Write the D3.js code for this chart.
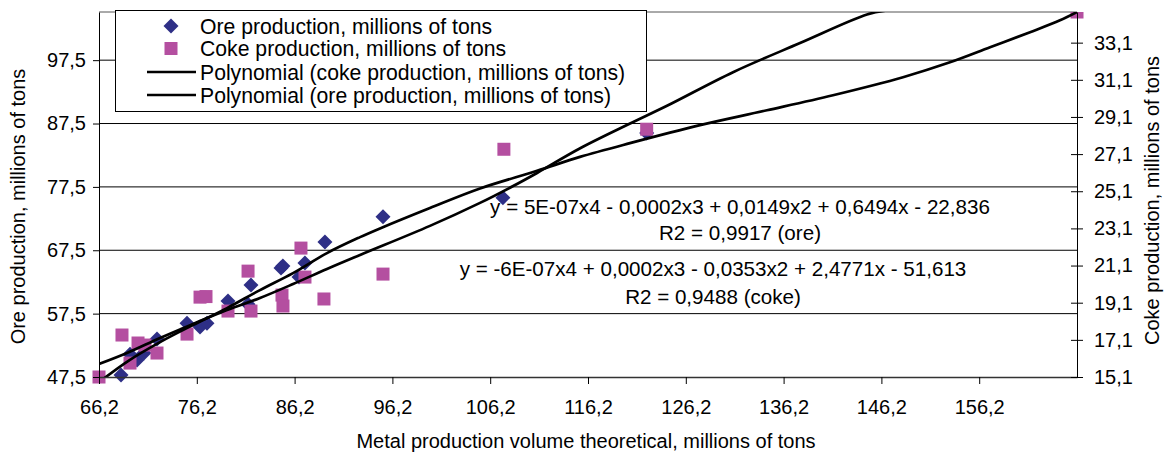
<!DOCTYPE html>
<html><head><meta charset="utf-8">
<script src="https://cdn.jsdelivr.net/npm/d3@7"></script>
<style>
body{margin:0;background:#fff}
svg{display:block}
text{font-family:"Liberation Sans",Arial,sans-serif;fill:#000}
</style>
</head><body><svg id="c" width="1168" height="456"></svg>
<script>
// ---- data ----
const xTicks = [66.2, 76.2, 86.2, 96.2, 106.2, 116.2, 126.2, 136.2, 146.2, 156.2];
const oreTicks = [47.5, 57.5, 67.5, 77.5, 87.5, 97.5];
const cokeTicks = [15.1, 17.1, 19.1, 21.1, 23.1, 25.1, 27.1, 29.1, 31.1, 33.1];

const oreX = [68.45, 69.37, 70.09, 70.8, 72.13, 75.2, 76.53, 77.24, 79.39, 81.44, 81.74, 84.81, 85.0, 86.65, 87.26, 89.3, 95.24, 107.5, 122.2];
const oreY = [47.8, 51.1, 50.2, 51.3, 53.5, 56.0, 55.4, 56.0, 59.5, 59.0, 62.0, 64.7, 65.0, 63.3, 65.5, 68.8, 72.8, 75.8, 86.0];

const cokeX = [66.2, 68.55, 69.37, 70.19, 70.9, 72.13, 75.2, 76.53, 77.14, 79.39, 81.44, 81.74, 84.91, 85.01, 86.85, 87.26, 89.2, 95.24, 107.6, 122.2, 166.2];
const cokeY = [15.1, 17.36, 15.85, 16.93, 16.82, 16.39, 17.41, 19.4, 19.43, 18.65, 20.8, 18.65, 19.51, 18.92, 22.04, 20.48, 19.3, 20.64, 27.36, 28.44, 34.75];

// trend lines
const oreTrendX = [66.2, 69.06, 72.44, 75.81, 79.29, 82.66, 86.04, 89.51, 92.89, 100.04, 105.16, 108.5, 110.99, 115.4, 120.5, 124.28, 131.03, 137.88, 144.73, 146.6];
const oreTrendY = [49.55, 51.29, 53.66, 55.87, 58.08, 59.97, 62.17, 64.55, 66.76, 71.35, 74.98, 77.6, 79.7, 83.6, 87.5, 90.3, 95.6, 100.2, 104.7, 105.3];

const cokeTrendX = [66.2, 69.17, 72.44, 75.81, 79.29, 82.66, 86.04, 89.51, 92.89, 94.93, 100.04, 105.16, 110.99, 115.38, 120.49, 127.65, 134.5, 141.25, 148.41, 153.21, 157.31, 161.4, 164.46, 166.2];
const cokeTrendY = [14.82, 15.96, 16.98, 17.9, 18.81, 19.78, 20.69, 21.77, 22.63, 23.1, 24.2, 25.25, 26.2, 26.95, 27.69, 28.66, 29.46, 30.27, 31.24, 32.04, 32.85, 33.66, 34.3, 34.75];

const legendLabels = ["Ore production, millions of tons", "Coke production, millions of tons",
  "Polynomial (coke production, millions of tons)", "Polynomial (ore production, millions of tons)"];
const eqOre = ["y = 5E-07x4 - 0,0002x3 + 0,0149x2 + 0,6494x - 22,836", "R2 = 0,9917 (ore)"];
const eqCoke = ["y = -6E-07x4 + 0,0002x3 - 0,0353x2 + 2,4771x - 51,613", "R2 = 0,9488 (coke)"];

// ---- layout ----
const L = 99, R = 1077, T = 12, B = 377;
const FS = 20;
const oreColor = "#2E2F86", cokeColor = "#B44FA0";
const fmt = d => d3.format(".1f")(d).replace(".", ",");

const svg = d3.select("#c");
const x = d3.scaleLinear().domain([66.2, 166.2]).range([L, R]);
const yL = d3.scaleLinear().domain([47.5, 105.1]).range([B, T]);
const yR = d3.scaleLinear().domain([15.1, 34.75]).range([B, T]);

svg.append("defs").append("clipPath").attr("id", "clip")
  .append("rect").attr("x", L - 8).attr("y", T).attr("width", R - L + 16).attr("height", B - T + 8);
svg.append("defs").append("clipPath").attr("id", "clipL")
  .append("rect").attr("x", L).attr("y", T).attr("width", R - L).attr("height", B - T);

// gridlines
svg.append("g").selectAll("line").data(oreTicks.slice(1)).join("line")
  .attr("x1", L).attr("x2", R).attr("y1", d => yL(d)).attr("y2", d => yL(d))
  .attr("stroke", "#000").attr("stroke-width", 1);
svg.append("line").attr("x1", L).attr("x2", R).attr("y1", T).attr("y2", T)
  .attr("stroke", "#555").attr("stroke-width", 1);

// markers
const gm = svg.append("g").attr("clip-path", "url(#clip)");
gm.selectAll("path.ore").data(oreX.map((v, i) => [v, oreY[i]])).join("path")
  .attr("class", "ore")
  .attr("d", "M0,-7.5L7.5,0L0,7.5L-7.5,0Z")
  .attr("transform", d => `translate(${x(d[0])},${yL(d[1])})`)
  .attr("fill", oreColor);
gm.selectAll("rect.coke").data(cokeX.map((v, i) => [v, cokeY[i]])).join("rect")
  .attr("class", "coke")
  .attr("x", d => x(d[0]) - 6.5).attr("y", d => yR(d[1]) - 6.5)
  .attr("width", 13).attr("height", 13)
  .attr("fill", cokeColor);

// trend lines
const gl = svg.append("g").attr("clip-path", "url(#clipL)");
gl.append("path")
  .datum(oreTrendX.map((v, i) => [v, oreTrendY[i]]))
  .attr("d", d3.line().x(d => x(d[0])).y(d => yL(d[1])).curve(d3.curveCatmullRom))
  .attr("fill", "none").attr("stroke", "#000").attr("stroke-width", 2.7);
gl.append("path")
  .datum(cokeTrendX.map((v, i) => [v, cokeTrendY[i]]))
  .attr("d", d3.line().x(d => x(d[0])).y(d => yR(d[1])).curve(d3.curveCatmullRom))
  .attr("fill", "none").attr("stroke", "#000").attr("stroke-width", 2.7);

// axes
function styleAxis(g) {
  g.attr("font-size", null).attr("font-family", null);
  g.selectAll("text").attr("font-size", FS).attr("fill", "#000");
  g.selectAll("line").attr("stroke", "#000");
  g.select(".domain").attr("stroke", "#000");
}
const ax = svg.append("g").attr("transform", `translate(0,${B})`)
  .call(d3.axisBottom(x).tickValues(xTicks).tickFormat(fmt).tickSize(7).tickSizeOuter(0).tickPadding(16));
styleAxis(ax);
ax.select(".domain").attr("stroke-width", 1.6).attr("stroke", "#333");

const al = svg.append("g").attr("transform", `translate(${L},0)`)
  .call(d3.axisLeft(yL).tickValues(oreTicks).tickFormat(fmt).tickSize(6).tickSizeOuter(0).tickPadding(7));
styleAxis(al);

const ar = svg.append("g").attr("transform", `translate(${R},0)`)
  .call(d3.axisRight(yR).tickValues(cokeTicks).tickFormat(fmt).tickSize(6).tickSizeOuter(0).tickPadding(11));
styleAxis(ar);
ar.selectAll(".tick line").attr("x1", -6).attr("x2", 6);

// axis titles
svg.append("text").attr("x", (L + R) / 2 - 2).attr("y", 448).attr("text-anchor", "middle")
  .attr("font-size", FS).text("Metal production volume theoretical, millions of tons");
svg.append("text").attr("transform", `translate(25,${(T + B) / 2 + 12}) rotate(-90)`).attr("text-anchor", "middle")
  .attr("font-size", FS).text("Ore production, millions of tons");
svg.append("text").attr("transform", `translate(1159,${(T + B) / 2 + 6}) rotate(-90)`).attr("text-anchor", "middle")
  .attr("font-size", FS).text("Coke production, millions of tons");

// equations
svg.append("g").selectAll("text").data(eqOre).join("text")
  .attr("x", 740).attr("y", (d, i) => 214 + i * 26).attr("text-anchor", "middle")
  .attr("font-size", 20.6).text(d => d);
svg.append("g").selectAll("text").data(eqCoke).join("text")
  .attr("x", 713).attr("y", (d, i) => 276 + i * 28).attr("text-anchor", "middle")
  .attr("font-size", 20.6).text(d => d);

// legend
const lg = svg.append("g");
lg.append("rect").attr("x", 115.5).attr("y", 10.5).attr("width", 531).attr("height", 101)
  .attr("fill", "#fff").attr("stroke", "#000").attr("stroke-width", 1);
const rowY = [26, 48.5, 72, 95];
lg.selectAll("text").data(legendLabels).join("text")
  .attr("x", 200).attr("y", (d, i) => rowY[i] + 7.5).attr("font-size", 21.2).text(d => d);
lg.append("path").attr("d", "M0,-7.5L7.5,0L0,7.5L-7.5,0Z")
  .attr("transform", `translate(171,${rowY[0]})`).attr("fill", oreColor);
lg.append("rect").attr("x", 171 - 6.5).attr("y", rowY[1] - 6.5).attr("width", 13).attr("height", 13).attr("fill", cokeColor);
lg.selectAll("line").data([rowY[2], rowY[3]]).join("line")
  .attr("x1", 147).attr("x2", 196).attr("y1", d => d).attr("y2", d => d)
  .attr("stroke", "#000").attr("stroke-width", 2.7);
</script>
</body></html>
